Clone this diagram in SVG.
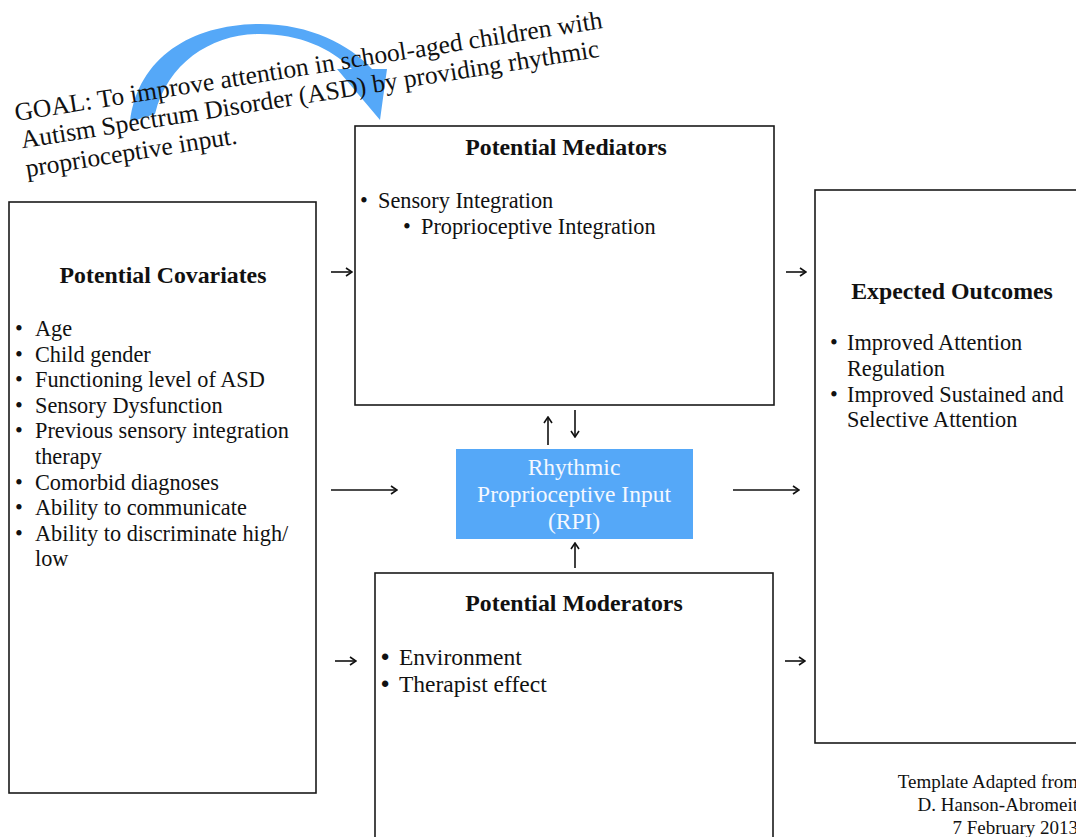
<svg xmlns="http://www.w3.org/2000/svg" width="1076" height="837" viewBox="0 0 1076 837">
<style>
.box{fill:#fff;stroke:#1a1a1a;stroke-width:1.6}
.t{font-family:"Liberation Serif","Times New Roman",serif;fill:#111;font-size:22.3px}
.h{font-family:"Liberation Serif","Times New Roman",serif;fill:#111;font-size:23.8px;font-weight:bold;text-anchor:middle}
.c{stroke:#111;stroke-width:1.6;fill:none;marker-end:url(#ah)}
</style>
<defs>
<marker id="ah" viewBox="0 0 10 10" refX="9" refY="5" markerWidth="10" markerHeight="10" markerUnits="userSpaceOnUse" orient="auto">
<path d="M3,1 L9,5 L3,9" fill="none" stroke="#111" stroke-width="1.6"/>
</marker>
</defs>
<rect width="1076" height="837" fill="#fff"/>

<g id="goal">
<path d="M130,122 C138,55 195,24 260,24 C310,24 350,45 372,69 L387,69 L380,120 L337,69 L352,69 C330,48 300,34 260,34 C212,34 168,62 155,114 Z" fill="#55A8F8"/>
<text class="t" style="font-size:25.5px" transform="rotate(-9 16 121)" x="16" y="121">GOAL: To improve attention in school-aged children with<tspan x="18" dy="28">Autism Spectrum Disorder (ASD) by providing rhythmic</tspan><tspan x="18" dy="29">proprioceptive input.</tspan></text>
</g>

<g id="covariates">
<rect class="box" x="9" y="202" width="307" height="591"/>
<text class="h" x="163" y="283">Potential Covariates</text>
<text class="t" x="15" y="336">•</text><text class="t" x="35" y="336">Age</text>
<text class="t" x="15" y="362">•</text><text class="t" x="35" y="362">Child gender</text>
<text class="t" x="15" y="387">•</text><text class="t" x="35" y="387">Functioning level of ASD</text>
<text class="t" x="15" y="413">•</text><text class="t" x="35" y="413">Sensory Dysfunction</text>
<text class="t" x="15" y="438">•</text><text class="t" x="35" y="438">Previous sensory integration</text>
<text class="t" x="35" y="464">therapy</text>
<text class="t" x="15" y="490">•</text><text class="t" x="35" y="490">Comorbid diagnoses</text>
<text class="t" x="15" y="515">•</text><text class="t" x="35" y="515">Ability to communicate</text>
<text class="t" x="15" y="541">•</text><text class="t" x="35" y="541">Ability to discriminate high/</text>
<text class="t" x="35" y="566">low</text>
</g>

<g id="mediators">
<rect class="box" x="355" y="126" width="419" height="279"/>
<text class="h" x="566" y="155">Potential Mediators</text>
<text class="t" x="360" y="208">•</text><text class="t" x="378" y="208">Sensory Integration</text>
<text class="t" x="403" y="234">•</text><text class="t" x="421" y="234">Proprioceptive Integration</text>
</g>

<g id="rpi">
<rect x="456" y="449" width="237" height="90" fill="#55A8F8"/>
<text class="t" style="fill:#F4F8FF;text-anchor:middle;font-size:23.5px" x="574" y="475">Rhythmic<tspan x="574" dy="27">Proprioceptive Input</tspan><tspan x="574" dy="27">(RPI)</tspan></text>
</g>

<g id="moderators">
<rect class="box" x="375" y="573" width="398" height="280"/>
<text class="h" x="574" y="611">Potential Moderators</text>
<text class="t" style="font-size:23.5px;font-family:'Liberation Sans',Arial,sans-serif" x="381" y="665">•</text><text class="t" style="font-size:23.5px" x="399" y="665">Environment</text>
<text class="t" style="font-size:23.5px;font-family:'Liberation Sans',Arial,sans-serif" x="381" y="692">•</text><text class="t" style="font-size:23.5px" x="399" y="692">Therapist effect</text>
</g>

<g id="outcomes">
<rect class="box" x="815" y="190" width="270" height="553"/>
<text class="h" x="952" y="299">Expected Outcomes</text>
<text class="t" x="830" y="350">•</text><text class="t" x="847" y="350">Improved Attention</text>
<text class="t" x="847" y="376">Regulation</text>
<text class="t" x="830" y="402">•</text><text class="t" x="847" y="402">Improved Sustained and</text>
<text class="t" x="847" y="427">Selective Attention</text>
</g>

<g id="footer">
<text class="t" style="font-size:19px;text-anchor:end" x="1078" y="788">Template Adapted from<tspan x="1078" dy="23">D. Hanson-Abromeit</tspan><tspan x="1078" dy="23">7 February 2013</tspan></text>
</g>

<g id="connectors">
<line class="c" x1="331" y1="272" x2="352" y2="272"/>
<line class="c" x1="786" y1="272" x2="806" y2="272"/>
<line class="c" x1="331" y1="490" x2="397" y2="490"/>
<line class="c" x1="733" y1="490" x2="799" y2="490"/>
<line class="c" x1="335" y1="661" x2="356" y2="661"/>
<line class="c" x1="785" y1="661" x2="805" y2="661"/>
<line class="c" x1="548" y1="445" x2="548" y2="417"/>
<line class="c" x1="575" y1="410" x2="575" y2="437"/>
<line class="c" x1="575" y1="568" x2="575" y2="543"/>
</g>
</svg>
